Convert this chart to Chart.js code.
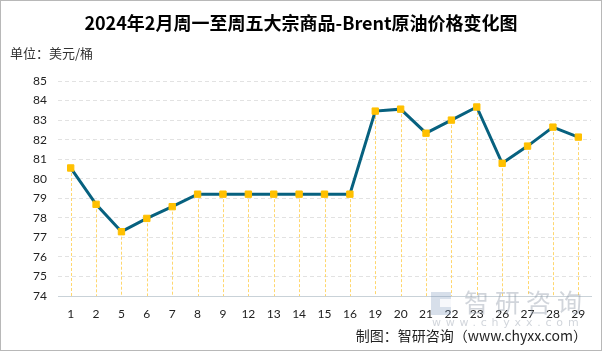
<!DOCTYPE html>
<html>
<head>
<meta charset="utf-8">
<script src="https://cdn.jsdelivr.net/npm/chart.js@4"></script>
<style>
  html, body { margin: 0; padding: 0; background: #fff; }
  #wrap { position: relative; width: 602px; height: 351px; overflow: hidden; }
  #c { position: absolute; left: 0; top: 0; }
  .txt { position: absolute; white-space: nowrap; font-family: "Noto Sans CJK SC", sans-serif; }
  #title { left: 0; width: 602px; top: 8px; text-align: center; font-size: 18px; font-weight: bold; color: #000; line-height: 28px; }
  #unit { left: 10px; top: 43px; font-size: 13px; color: #333; line-height: 20px; }
  #src { right: 15px; top: 325px; font-size: 14px; color: #222; line-height: 20px; }
  #wm1 { left: 464px; top: 286px; font-size: 25px; color: rgba(140,150,165,0.4); line-height: 30px; letter-spacing: 6px; }
  #wm2 { left: 432px; top: 316px; font-size: 11px; color: rgba(140,150,165,0.4); line-height: 14px; letter-spacing: 4.8px; font-family: "DejaVu Sans", sans-serif; }
  #logo { position: absolute; left: 431px; top: 292px; width: 20px; height: 23px; background: rgba(110,140,180,0.28); }
  #logo2 { position: absolute; left: 440px; top: 299px; width: 11px; height: 8px; background: rgba(255,255,255,0.8); }
  #frame { position: absolute; left: 0; top: 0; width: 600px; height: 349px; border: 1px solid #b8b8b8; pointer-events: none; }
</style>
</head>
<body>
<div id="wrap">
  <canvas id="c" width="602" height="351"></canvas>
  <div id="logo"></div>
  <div id="logo2"></div>
  <div class="txt" id="wm1">智研咨询</div>
  <div class="txt" id="wm2">www.chyxx.com</div>
  <div class="txt" id="title">2024年2月周一至周五大宗商品-Brent原油价格变化图</div>
  <div class="txt" id="unit">单位：美元/桶</div>
  <div class="txt" id="src">制图：智研咨询（www.chyxx.com）</div>
  <div id="frame"></div>
</div>
<script>
// Trading days of February 2024 (day of month)
const days = ['1', '2', '5', '6', '7', '8', '9', '12', '13', '14', '15', '16', '19', '20', '21', '22', '23', '26', '27', '28', '29'];
// Brent crude price, USD per barrel
const brentPrice = [80.55, 78.69, 77.29, 77.97, 78.57, 79.21, 79.21, 79.21, 79.21, 79.21, 79.21, 79.21, 83.46, 83.56, 82.33, 83.0, 83.67, 80.79, 81.67, 82.64, 82.13];
// Value axis range
const yMin = 74;
const yMax = 85;

// Dashed drop lines from each point down to the category axis
const dropLines = {
  id: 'dropLines',
  beforeDatasetsDraw(chart) {
    const ctx = chart.ctx;
    const meta = chart.getDatasetMeta(0);
    const bottom = chart.scales.y.getPixelForValue(yMin);
    ctx.save();
    ctx.strokeStyle = '#ffd76e';
    ctx.lineWidth = 1;
    ctx.setLineDash([3, 2]);
    meta.data.forEach(pt => {
      const x = Math.round(pt.x) + 0.5;
      ctx.beginPath();
      ctx.moveTo(x, pt.y);
      ctx.lineTo(x, bottom);
      ctx.stroke();
    });
    ctx.restore();
  }
};

new Chart(document.getElementById('c'), {
  type: 'line',
  data: {
    labels: days,
    datasets: [{
      data: brentPrice,
      borderColor: '#07617f',
      borderWidth: 3,
      tension: 0,
      pointStyle: 'rect',
      pointRadius: 4.5,
      pointHoverRadius: 4.5,
      pointBackgroundColor: '#ffc000',
      pointBorderColor: '#ffc000',
      pointBorderWidth: 1
    }]
  },
  options: {
    responsive: false,
    animation: false,
    events: [],
    layout: { padding: { top: 81, right: 11, bottom: 0, left: 0 } },
    plugins: { legend: { display: false }, tooltip: { enabled: false } },
    scales: {
      x: {
        offset: true,
        grid: { display: false },
        border: { display: true, color: '#c9d2d8', width: 1 },
        ticks: { color: '#222', padding: 3, maxRotation: 0, autoSkip: false, font: { family: 'Lato', size: 12 } },
        afterFit(s) { s.height = 55; }
      },
      y: {
        min: yMin,
        max: yMax,
        grid: { color: '#e2e2e2', drawTicks: false },
        border: { display: false, dash: [4, 3] },
        ticks: { stepSize: 1, color: '#222', padding: 11, font: { family: 'Lato', size: 12 } },
        afterFit(s) { s.width = 58; }
      }
    }
  },
  plugins: [dropLines]
});
</script>
</body>
</html>
